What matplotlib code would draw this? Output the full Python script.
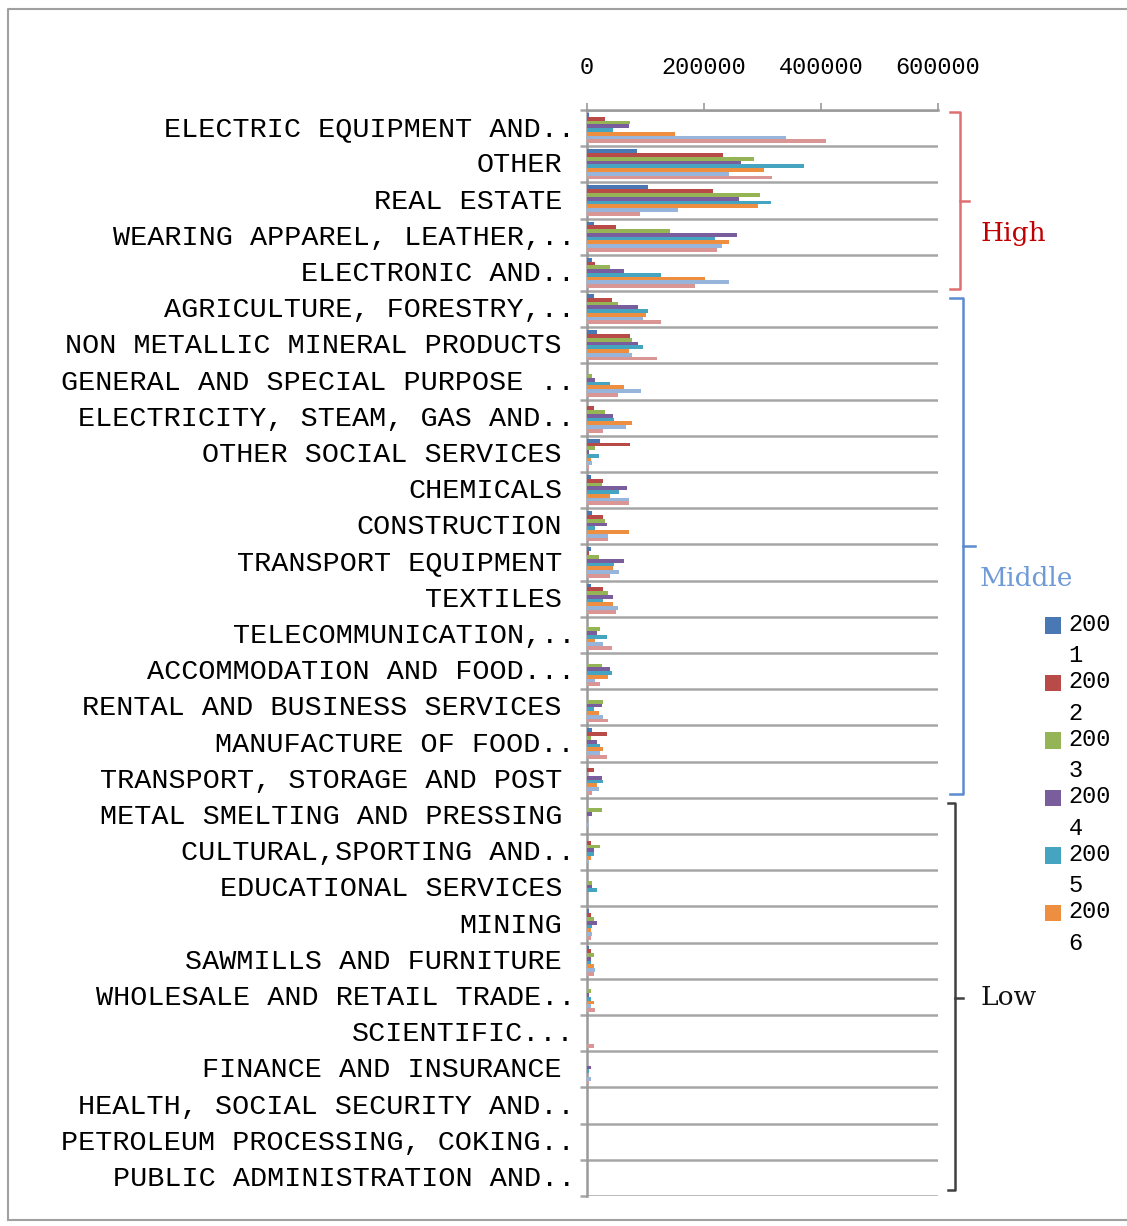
import numpy as np
import matplotlib.pyplot as plt
from matplotlib.lines import Line2D
from matplotlib.transforms import blended_transform_factory, ScaledTranslation

# sectors, sorted by size group
sectors = ["ELECTRIC EQUIPMENT AND..", "OTHER", "REAL ESTATE",
           "WEARING APPAREL, LEATHER,..", "ELECTRONIC AND..",
           "AGRICULTURE, FORESTRY,..", "NON METALLIC MINERAL PRODUCTS",
           "GENERAL AND SPECIAL PURPOSE ..", "ELECTRICITY, STEAM, GAS AND..",
           "OTHER SOCIAL SERVICES", "CHEMICALS", "CONSTRUCTION",
           "TRANSPORT EQUIPMENT", "TEXTILES", "TELECOMMUNICATION,..",
           "ACCOMMODATION AND FOOD...", "RENTAL AND BUSINESS SERVICES",
           "MANUFACTURE OF FOOD..", "TRANSPORT, STORAGE AND POST",
           "METAL SMELTING AND PRESSING", "CULTURAL,SPORTING AND..",
           "EDUCATIONAL SERVICES", "MINING", "SAWMILLS AND FURNITURE",
           "WHOLESALE AND RETAIL TRADE..", "SCIENTIFIC...",
           "FINANCE AND INSURANCE", "HEALTH, SOCIAL SECURITY AND..",
           "PETROLEUM PROCESSING, COKING..", "PUBLIC ADMINISTRATION AND.."]

years = ["2001", "2002", "2003", "2004", "2005", "2006", "2007", "2008"]

y2001 = [3000, 85000, 104000, 12000, 8500, 12000, 17000, 0, 0, 23000, 6000, 8500, 6000, 6000, 0,
         0, 0, 8500, 0, 0, 0, 0, 3500, 3500, 0, 0, 0, 0, 0, 0]
y2002 = [31000, 233000, 216000, 50000, 14000, 42000, 74000, 0, 12000, 74000, 28000, 28000, 3000, 28000, 0,
         0, 0, 34000, 12000, 0, 6000, 0, 6000, 6000, 0, 0, 0, 0, 0, 0]
y2003 = [74000, 286000, 295000, 142000, 39000, 53000, 77000, 8500, 31000, 14000, 26000, 31000, 20000, 36000, 23000,
         26000, 28000, 6000, 0, 26000, 23000, 8500, 12000, 12000, 6000, 0, 0, 0, 0, 0]
y2004 = [72000, 264000, 260000, 256000, 63000, 88000, 88000, 14000, 44000, 3000, 69000, 34000, 63000, 44000, 17000,
         39000, 26000, 17000, 26000, 8500, 12000, 8500, 17000, 6000, 3000, 0, 6000, 0, 0, 0]
y2005 = [44000, 371000, 314000, 218000, 126000, 104000, 96000, 39000, 47000, 20000, 55000, 14000, 47000, 28000, 34000,
         42000, 12000, 23000, 28000, 0, 12000, 17000, 8500, 6000, 6000, 0, 3500, 0, 0, 0]
y2006 = [151000, 303000, 292000, 243000, 202000, 101000, 72000, 63000, 77000, 6000, 39000, 72000, 44000, 44000, 14000,
         36000, 20000, 28000, 17000, 0, 6000, 0, 6000, 12000, 12000, 0, 0, 0, 0, 0]
y2007 = [341000, 243000, 156000, 230000, 243000, 96000, 77000, 93000, 66000, 8500, 72000, 36000, 55000, 53000, 28000,
         14000, 28000, 23000, 20000, 3500, 3500, 0, 8500, 14000, 6000, 0, 6000, 0, 0, 0]
y2008 = [409000, 316000, 91000, 223000, 185000, 126000, 120000, 53000, 28000, 3500, 72000, 36000, 39000, 50000, 42000,
         23000, 36000, 34000, 8500, 0, 0, 0, 6000, 12000, 14000, 12000, 3500, 0, 0, 0]
series = [y2001, y2002, y2003, y2004, y2005, y2006, y2007, y2008]

colors = ["#4a78b4", "#b84a47", "#94b456", "#7a5d9c", "#45a5c0", "#ee8e40", "#97b4db", "#d99694"]

fig = plt.figure(figsize=(11.27, 12.26), dpi=100)
W, H = 1127, 1226
ax = fig.add_axes([587 / W, 1 - 1196 / H, (938 - 587) / W, (1196 - 110) / H])

mono = "Liberation Mono"
n = len(sectors)
pos = np.arange(n)
h = 0.83 / len(series)
bars = []
for j, vals in enumerate(series):
    b = ax.barh(pos + (j - 3.5) * h, vals, height=h, color=colors[j], edgecolor="none", zorder=3)
    bars.append(b)

ax.set_xlim(0, 600000)
ax.set_ylim(n - 0.5, -0.5)
ax.xaxis.tick_top()
ax.set_xticks([0, 200000, 400000, 600000])
ax.set_xticklabels(["0", "200000", "400000", "600000"], fontfamily=mono, fontsize=17)
ax.tick_params(axis="x", direction="out", length=5, width=1.2, color="#9a9a9a", pad=17)

ax.set_yticks(pos)
ax.set_yticklabels(sectors, fontfamily=mono, fontsize=20.5)
ax.tick_params(axis="y", which="major", length=0, pad=18)
ax.set_yticks(np.arange(n + 1) - 0.5, minor=True)
ax.tick_params(axis="y", which="minor", direction="out", length=5, width=1.8, color="#a6a6a6")
ax.grid(True, axis="y", which="minor", color="#a6a6a6", linewidth=1.8, zorder=1)

# truncated names sit a little further right
up = ScaledTranslation(0, 2 / 100, fig.dpi_scale_trans)
shift = ScaledTranslation(13 / 100, 2 / 100, fig.dpi_scale_trans)
for lab in ax.get_yticklabels():
    if lab.get_text().endswith(".."):
        lab.set_transform(lab.get_transform() + shift)
    else:
        lab.set_transform(lab.get_transform() + up)

for s in ["right", "bottom"]:
    ax.spines[s].set_visible(False)
for s in ["top", "left"]:
    ax.spines[s].set_color("#9a9a9a")
    ax.spines[s].set_linewidth(1.8)

# group brackets on the right
tr = blended_transform_factory(ax.transAxes, ax.transData)
groups = [
    ("High", -0.45, 4.45, 1.063, 1.034, 1.088, 2.0, 2.9, "#e07070", "#c00000"),
    ("Middle", 4.68, 18.4, 1.071, 1.034, 1.105, 11.54, 12.43, "#5b8bd0", "#6f9ad6"),
    ("Low", 18.65, 29.34, 1.048, 1.028, 1.071, 24.02, 24.02, "#404040", "#111111"),
]
for name, y0, y1, xb, xh, xt, ym, yl, lc, tc in groups:
    ax.add_line(Line2D([xh, xb, xb, xh], [y0, y0, y1, y1], transform=tr, color=lc,
                       linewidth=1.8, clip_on=False))
    ax.add_line(Line2D([xb, xt], [ym, ym], transform=tr, color=lc, linewidth=1.8, clip_on=False))
    ax.text(1.12, yl, name, transform=tr, color=tc, fontsize=19, fontfamily="DejaVu Serif",
            va="center", ha="left")

# legend box only has room for the first six years
labels = [y[:3] + "\n" + y[3:] for y in years[:6]]
leg = fig.legend([b[0] for b in bars[:6]], labels, loc="upper left",
                 bbox_to_anchor=(1033 / W, 1 - 601 / H), frameon=False,
                 prop={"family": mono, "size": 17}, handlelength=0.7, handleheight=0.7,
                 handletextpad=0.3, labelspacing=0.13, borderpad=0)
for t in leg.get_texts():
    t.set_linespacing(1.47)
for hd in leg.legend_handles:
    hd.set_y(hd.get_y() + 11)

# outer chart frame
fig.add_artist(Line2D([8 / W, 8 / W, 1.0], [1 - 1220 / H, 1 - 9 / H, 1 - 9 / H],
                      transform=fig.transFigure, color="#a0a0a0", linewidth=1.5))
fig.add_artist(Line2D([8 / W, 1.0], [1 - 1220 / H, 1 - 1220 / H],
                      transform=fig.transFigure, color="#a0a0a0", linewidth=1.5))

fig.savefig("out.png", dpi=100)
